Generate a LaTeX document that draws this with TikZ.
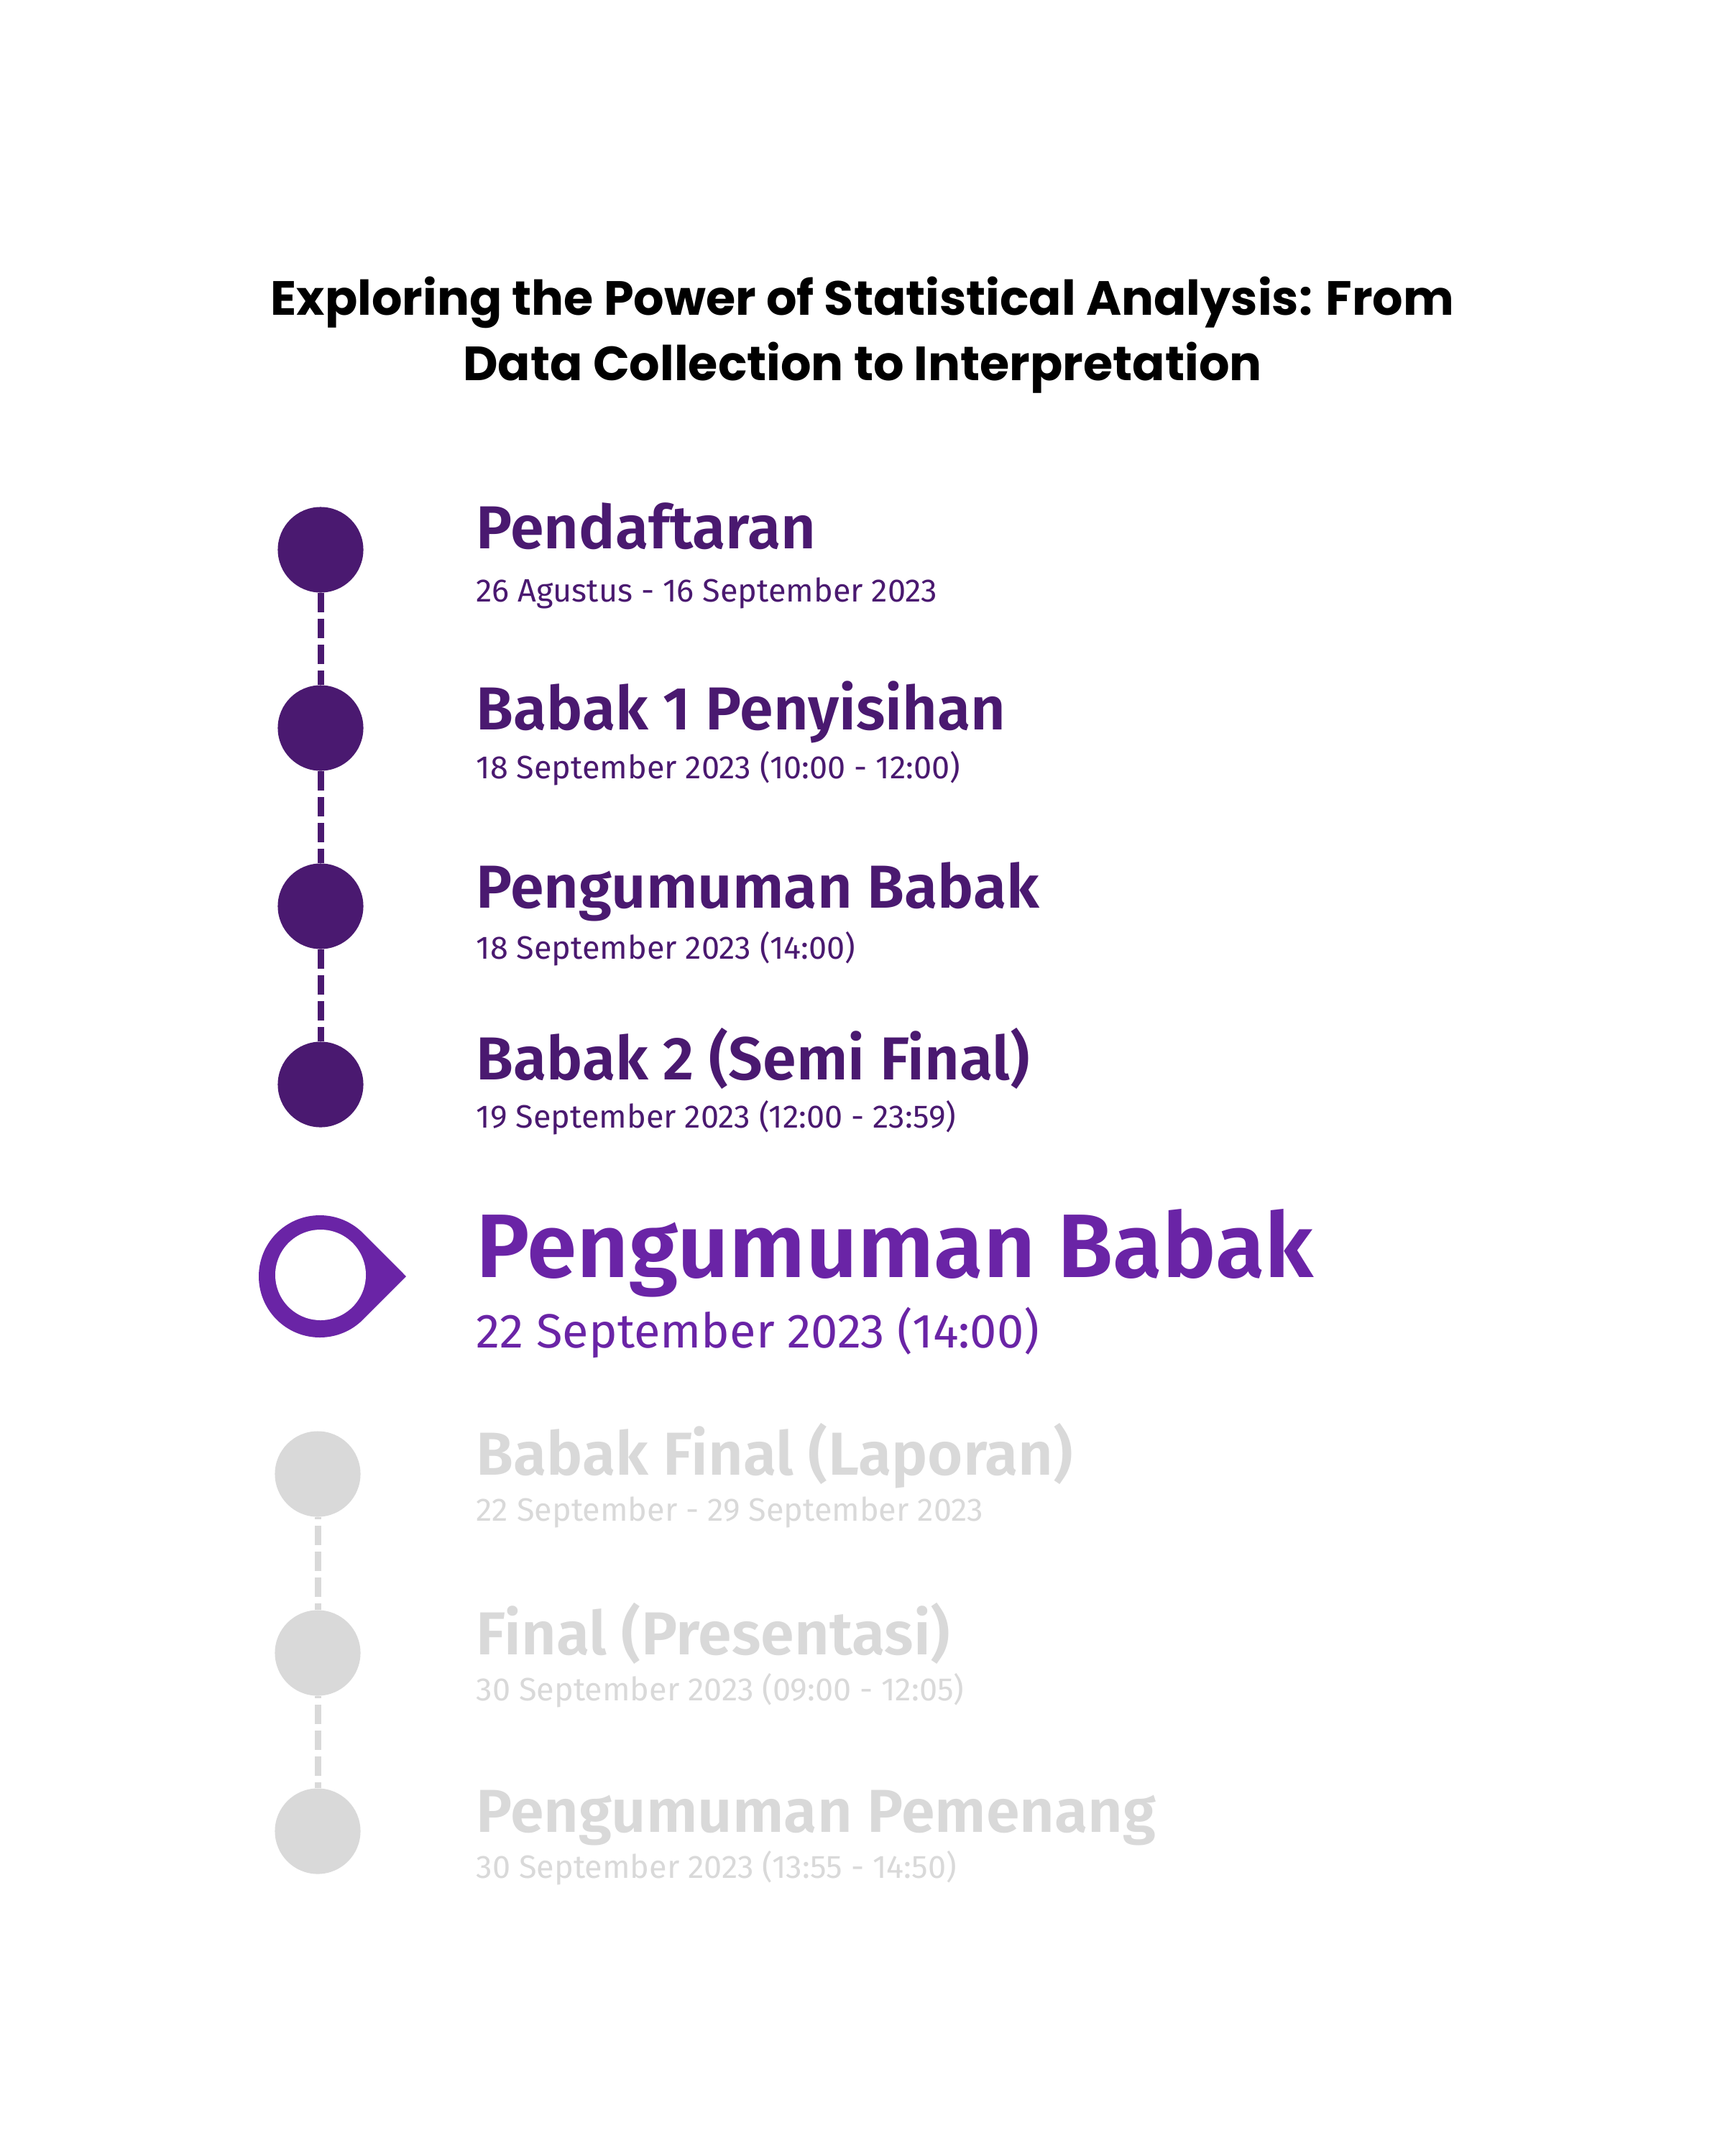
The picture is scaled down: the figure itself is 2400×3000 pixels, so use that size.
\documentclass[tikz,border=0pt]{standalone}
\usepackage{fontspec}
\setmainfont{Fira Sans}
\newfontfamily\titlefont{Poppins}
\newfontfamily\headfont{Fira Sans SemiBold}
\usetikzlibrary{positioning}
\definecolor{donepurple}{RGB}{74,25,112}
\definecolor{nowpurple}{RGB}{106,36,166}
\definecolor{todogray}{RGB}{217,217,217}
\tikzset{
  x=0.01cm,
  y=-0.01cm,
  milestone/.style={circle, minimum size=1.19cm, inner sep=0pt, fill=#1},
  track/.style={line width=0.09cm, dash pattern=on 0.27cm off 0.09cm, #1},
  heading/.style={anchor=base, inner sep=0pt, font=\titlefont\bfseries\fontsize{19}{26}\selectfont},
  stage/.style={anchor=base west, inner sep=0pt, font=\headfont\fontsize{24}{28}\selectfont},
  when/.style={anchor=base west, inner sep=0pt, font=\fontsize{12.8}{15}\selectfont},
}

\begin{document}
\begin{tikzpicture}
      \useasboundingbox[fill=white] (0,0) rectangle (2400,3000);

      % title
      \node[heading] (title1) at (1200,438) {Exploring the Power of Statistical Analysis: From};
      \node[heading] (title2) at (1200,529) {Data Collection to Interpretation};

      % finished stages
      \node[milestone=donepurple] (p1) at (446,765)  {};
      \node[milestone=donepurple] (p2) at (446,1013) {};
      \node[milestone=donepurple] (p3) at (446,1261) {};
      \node[milestone=donepurple] (p4) at (446,1509) {};

      \draw[track=donepurple] (p1) -- (p2);
      \draw[track=donepurple] (p2) -- (p3);
      \draw[track=donepurple] (p3) -- (p4);

      \node[stage, donepurple] (s1) at (662,763)  {Pendaftaran};
      \node[when,  donepurple] (d1) at (662,837)  {26 Agustus - 16 September 2023};
      \node[stage, donepurple] (s2) at (662,1015) {Babak 1 Penyisihan};
      \node[when,  donepurple] (d2) at (662,1083) {18 September 2023 (10:00 - 12:00)};
      \node[stage, donepurple] (s3) at (662,1263) {Pengumuman Babak};
      \node[when,  donepurple] (d3) at (662,1334) {18 September 2023 (14:00)};
      \node[stage, donepurple] (s4) at (662,1502) {Babak 2 (Semi Final)};
      \node[when,  donepurple] (d4) at (662,1569) {19 September 2023 (12:00 - 23:59)};

      % current stage
      \coordinate (now) at (445,1776);
      \coordinate (tip) at (565,1776);
      \fill[nowpurple] (tip) -- ([shift={(45:85)}]now) arc[start angle=45, end angle=315, radius=85] -- cycle;
      \fill[white] (446,1774) circle[radius=63];

      \node[stage, nowpurple, font=\headfont\fontsize{35.7}{40}\selectfont] (s5) at (662,1777) {Pengumuman Babak};
      \node[when,  nowpurple, font=\fontsize{19}{22}\selectfont]           (d5) at (662,1875) {22 September 2023 (14:00)};

      % coming stages
      \node[milestone=todogray] (g1) at (442,2051) {};
      \node[milestone=todogray] (g2) at (442,2300) {};
      \node[milestone=todogray] (g3) at (442,2548) {};

      \draw[track=todogray, dash phase=0.24cm] (g1) -- (g2);
      \draw[track=todogray, dash phase=0.24cm] (g2) -- (g3);

      \node[stage, todogray] (s6) at (662,2052) {Babak Final (Laporan)};
      \node[when,  todogray] (d6) at (662,2116) {22 September - 29 September 2023};
      \node[stage, todogray] (s7) at (662,2302) {Final (Presentasi)};
      \node[when,  todogray] (d7) at (662,2366) {30 September 2023 (09:00 - 12:05)};
      \node[stage, todogray] (s8) at (662,2549) {Pengumuman Pemenang};
      \node[when,  todogray] (d8) at (662,2613) {30 September 2023 (13:55 - 14:50)};
\end{tikzpicture}
\end{document}
